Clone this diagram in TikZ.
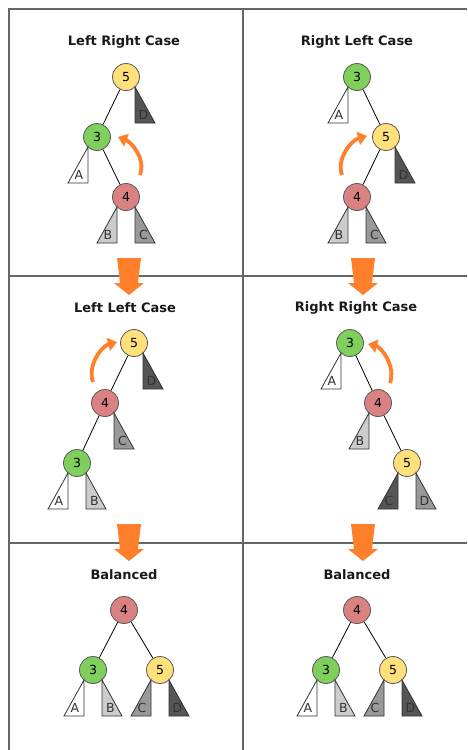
\documentclass[tikz,border=0pt]{standalone}
\usepackage{fontspec}
\setmainfont{DejaVu Sans}
\usepackage{xcolor}
\usepackage{tikz}
\usetikzlibrary{positioning,calc,arrows.meta}
\definecolor{rotorange}{HTML}{FF7F2A}
\definecolor{nyellow}{HTML}{FFE07A}
\definecolor{ngreen}{HTML}{80CF5C}
\definecolor{nred}{HTML}{DA8282}
\definecolor{glight}{HTML}{CCCCCC}
\definecolor{gmid}{HTML}{999999}
\definecolor{gdark}{HTML}{555555}

\begin{document}
\begin{tikzpicture}[x=1pt, y=-1pt,
    key/.style={circle, draw=black!65, line width=0.8pt, minimum size=27pt, inner sep=0pt, font=\fontsize{12.5}{12.5}\selectfont},
    title/.style={font=\fontsize{13}{15}\selectfont\bfseries, text=black!90},
    link/.style={line width=0.8pt},
    leaf/.style={inner sep=0pt, font=\fontsize{12.5}{12.5}\selectfont, text=black!80},
    frame/.style={draw=black!60, line width=1.2pt},
    rot/.style={draw=rotorange, line width=3.8pt, -{Triangle[length=9pt, width=13pt]}},
    pics/lsub/.style 2 args={code={
        \draw[line width=0.8pt, draw=black!80, fill=#1] (-9,10) -- (-9,46) -- (-29,46) -- cycle;
        \node[leaf] (-l) at (-18,37.5) {#2};}},
    pics/rsub/.style 2 args={code={
        \draw[line width=0.8pt, draw=black!80, fill=#1] (9,10) -- (9,46) -- (29,46) -- cycle;
        \node[leaf] (-l) at (17.5,37.5) {#2};}},
    pics/flow/.style={code={
        \fill[rotorange] (-12,0) -- (12,0) -- (9,25) -- (15,25) -- (0,37) -- (-15,25) -- (-9,25) -- cycle;}}
]
    \useasboundingbox (0,0) rectangle (467,750);

    % Frame
    \draw[frame] (9,750) -- (9,9) -- (467,9);
    \draw[frame] (243,9) -- (243,750);
    \draw[frame] (9,276) -- (467,276);
    \draw[frame] (9,543) -- (467,543);

    % Left Right Case
    \node[title] (aT) at (124,42) {Left Right Case};
    \node[key, fill=nyellow] (a5) at (126,77) {5};
    \node[key, fill=ngreen] (a3) at (97,137) {3};
    \node[key, fill=nred] (a4) at (126,197) {4};
    \draw[link] (a5) -- (a3);
    \draw[link] (a3) -- (a4);
    \pic (aA) at (a3) {lsub={white}{A}};
    \pic (aB) at (a4) {lsub={glight}{B}};
    \pic (aC) at (a4) {rsub={gmid}{C}};
    \pic (aD) at (a5) {rsub={gdark}{D}};
    \coordinate (aR1) at (140,175);
    \coordinate (aR2) at (118,137);
    \draw[rot] (aR1) .. controls (146,158) and (131,142) .. (aR2);
    \pic (aF) at (129,258) {flow};

    % Right Left Case
    \begin{scope}[shift={(233,0)}]
    \node[title] (bT) at (124,42) {Right Left Case};
    \node[key, fill=ngreen] (b3) at (124,77) {3};
    \node[key, fill=nyellow] (b5) at (153,137) {5};
    \node[key, fill=nred] (b4) at (124,197) {4};
    \draw[link] (b3) -- (b5);
    \draw[link] (b5) -- (b4);
    \pic (bA) at (b3) {lsub={white}{A}};
    \pic (bB) at (b4) {lsub={glight}{B}};
    \pic (bC) at (b4) {rsub={gmid}{C}};
    \pic (bD) at (b5) {rsub={gdark}{D}};
    \coordinate (bR1) at (109,175);
    \coordinate (bR2) at (134,136);
    \draw[rot] (bR1) .. controls (103,158) and (119,140) .. (bR2);
    \pic (bF) at (130,258) {flow};
    \end{scope}

    % Left Left Case
    \begin{scope}[shift={(0,266)}]
    \node[title] (cT) at (125,42) {Left Left Case};
    \node[key, fill=nyellow] (c5) at (134,77) {5};
    \node[key, fill=nred] (c4) at (105,137) {4};
    \node[key, fill=ngreen] (c3) at (77,197) {3};
    \draw[link] (c5) -- (c4);
    \draw[link] (c4) -- (c3);
    \pic (cA) at (c3) {lsub={white}{A}};
    \pic (cB) at (c3) {rsub={glight}{B}};
    \pic (cC) at (c4) {rsub={gmid}{C}};
    \pic (cD) at (c5) {rsub={gdark}{D}};
    \coordinate (cR1) at (93,116);
    \coordinate (cR2) at (117,76);
    \draw[rot] (cR1) .. controls (87,99) and (102,80) .. (cR2);
    \pic (cF) at (129,258) {flow};
    \end{scope}

    % Right Right Case
    \begin{scope}[shift={(233,266)}]
    \node[title] (dT) at (123,42) {Right Right Case};
    \node[key, fill=ngreen] (d3) at (117,77) {3};
    \node[key, fill=nred] (d4) at (145,137) {4};
    \node[key, fill=nyellow] (d5) at (174,197) {5};
    \draw[link] (d3) -- (d4);
    \draw[link] (d4) -- (d5);
    \pic (dA) at (d3) {lsub={white}{A}};
    \pic (dB) at (d4) {lsub={glight}{B}};
    \pic (dC) at (d5) {lsub={gdark}{C}};
    \pic (dD) at (d5) {rsub={gmid}{D}};
    \coordinate (dR1) at (157,117);
    \coordinate (dR2) at (135,78);
    \draw[rot] (dR1) .. controls (163,100) and (148,81) .. (dR2);
    \pic (dF) at (130,258) {flow};
    \end{scope}

    % Balanced
    \foreach \col/\p in {0/e, 233/f} {
    \begin{scope}[shift={(\col,533)}]
    \node[title] (\p T) at (124,42) {Balanced};
    \node[key, fill=nred] (\p4) at (124,77) {4};
    \node[key, fill=ngreen] (\p3) at (93,137) {3};
    \node[key, fill=nyellow] (\p5) at (160,137) {5};
    \draw[link] (\p4) -- (\p3);
    \draw[link] (\p4) -- (\p5);
    \pic (\p A) at (\p3) {lsub={white}{A}};
    \pic (\p B) at (\p3) {rsub={glight}{B}};
    \pic (\p C) at (\p5) {lsub={gmid}{C}};
    \pic (\p D) at (\p5) {rsub={gdark}{D}};
    \end{scope}
    }
\end{tikzpicture}
\end{document}
